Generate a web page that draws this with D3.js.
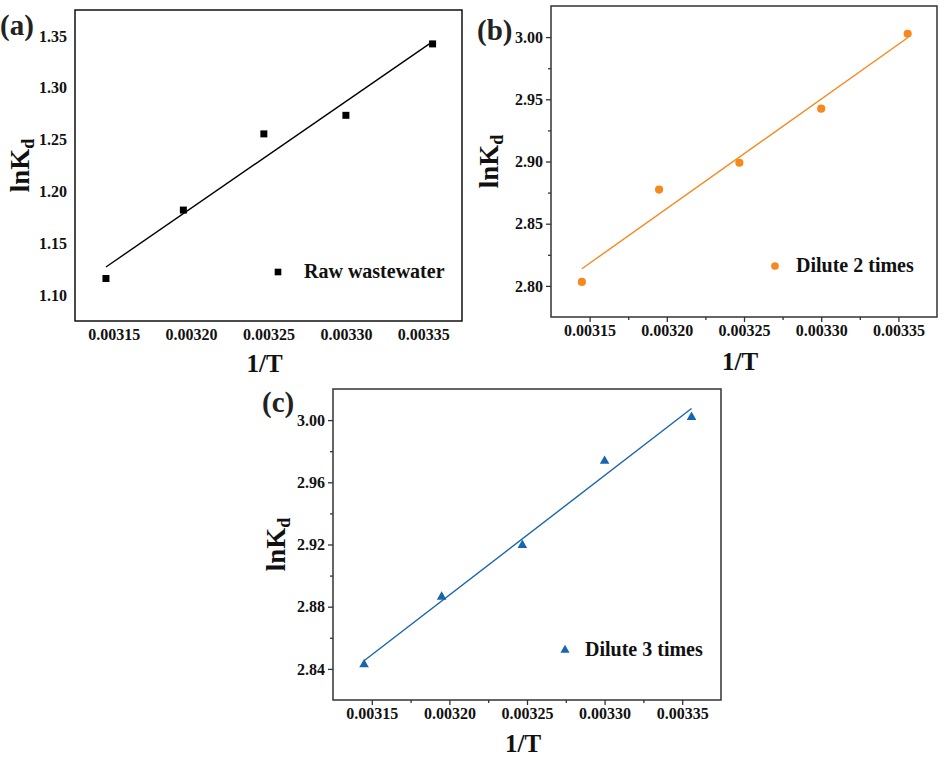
<!DOCTYPE html>
<html>
<head>
<meta charset="utf-8">
<script src="https://cdn.jsdelivr.net/npm/d3@7"></script>
<style>
  body { margin: 0; background: #fff; }
</style>
</head>
<body>
<div class="chart"></div>
<script>
// data
var invT = [0.003145, 0.003195, 0.003247, 0.003300, 0.003356];
var lnKdRaw = [1.1160, 1.1820, 1.2555, 1.2734, 1.3423];
var lnKdDilute2 = [2.8032, 2.8774, 2.8990, 2.9425, 3.0027];
var lnKdDilute3 = [2.8428, 2.8863, 2.9196, 2.9737, 3.0019];
var seriesNames = ["Raw wastewater", "Dilute 2 times", "Dilute 3 times"];
var panelTags = ["(a)", "(b)", "(c)"];
var xTicks = [0.00315, 0.00320, 0.00325, 0.00330, 0.00335];
var yTicksA = [1.10, 1.15, 1.20, 1.25, 1.30, 1.35];
var yTicksB = [2.80, 2.85, 2.90, 2.95, 3.00];
var yTicksC = [2.84, 2.88, 2.92, 2.96, 3.00];

var FONT = "'Liberation Serif', 'Times New Roman', Tinos, 'DejaVu Serif', serif";

// the tick label "0.00315" is ~3.25em wide in Times bold; shrink if the font we get is wider
var ctx = document.createElement("canvas").getContext("2d");
ctx.font = "bold 100px " + FONT;
var fs = Math.min(1, 325 / ctx.measureText("0.00315").width);

var svgWidth = 945;
var svgHeight = 760;

var svg = d3.select(".chart")
  .append("svg")
  .attr("width", svgWidth)
  .attr("height", svgHeight)
  .style("font-family", FONT)
  .style("font-weight", "bold");

// one entry per sub-plot; the frame box is in page pixels
var panels = [
  {ys: lnKdRaw, yTicks: yTicksA, yDomain: [1.075, 1.375], fmt: ".2f",
   box: {x: 75, y: 10, w: 387, h: 311}, color: "#000", frame: "#111",
   shape: d3.symbolSquare, size: 49, ticks: false,
   legend: {x: 278, y: 272, gap: 26}, tag: {x: 0, y: 35}, xTitleY: 372, yTitleX: 29},
  {ys: lnKdDilute2, yTicks: yTicksB, yDomain: [2.775, 3.025], fmt: ".2f",
   box: {x: 551, y: 6, w: 386, h: 311}, color: "#f7881c", frame: "#333",
   shape: d3.symbolCircle, size: 52, ticks: true,
   legend: {x: 775, y: 266, gap: 21}, tag: {x: 477, y: 40}, xTitleY: 370, yTitleX: 498},
  {ys: lnKdDilute3, yTicks: yTicksC, yDomain: [2.82, 3.02], fmt: ".2f",
   box: {x: 333, y: 389, w: 388, h: 311}, color: "#1765ad", frame: "#333",
   shape: d3.symbolTriangle, size: 40, ticks: true,
   legend: {x: 565, y: 650, gap: 20}, tag: {x: 262, y: 412}, xTitleY: 752, yTitleX: 285}
];

// midpoints between major ticks (plus one past the top) for the minor marks
function minors(t, hi) {
  var step = t[1] - t[0];
  return d3.pairs(t).map(p => (p[0] + p[1]) / 2)
    .concat([t[t.length - 1] + step / 2])
    .filter(v => v < hi);
}

// plain least squares for the straight fit line
function fit(xs, ys) {
  var mx = d3.mean(xs), my = d3.mean(ys);
  var sxy = d3.sum(xs, (x, i) => (x - mx) * (ys[i] - my));
  var sxx = d3.sum(xs, x => (x - mx) * (x - mx));
  var b = sxy / sxx;
  return {a: my - b * mx, b: b};
}

panels.forEach(function(p, k) {
  var g = svg.append("g")
    .attr("transform", `translate(${p.box.x}, ${p.box.y})`);

  var xDomain = [0.003125, 0.003375];
  var x = d3.scaleLinear().domain(xDomain).range([0, p.box.w]);
  var y = d3.scaleLinear().domain(p.yDomain).range([p.box.h, 0]);

  var major = p.ticks ? 5 : 0;

  g.append("g")
    .attr("transform", `translate(0, ${p.box.h})`)
    .call(d3.axisBottom(x).tickValues(xTicks).tickFormat(d3.format(".5f"))
      .tickSizeInner(major).tickSizeOuter(0).tickPadding(8 - major));
  g.append("g")
    .call(d3.axisLeft(y).tickValues(p.yTicks).tickFormat(d3.format(p.fmt))
      .tickSizeInner(major).tickSizeOuter(0).tickPadding(8 - major));

  if (p.ticks) {
    g.append("g")
      .attr("transform", `translate(0, ${p.box.h})`)
      .call(d3.axisBottom(x).tickValues(minors(xTicks, xDomain[1])).tickFormat("").tickSize(3));
    g.append("g")
      .call(d3.axisLeft(y).tickValues(minors(p.yTicks, p.yDomain[1])).tickFormat("").tickSize(3));
  }

  g.selectAll(".domain").remove();
  g.selectAll(".tick line").attr("stroke", p.frame).attr("stroke-width", 1.3);
  g.selectAll("g").attr("font-family", null);
  g.selectAll(".tick text")
    .attr("fill", "#111")
    .style("font-size", (16 * fs) + "px");

  // frame box
  g.append("rect")
    .attr("width", p.box.w)
    .attr("height", p.box.h)
    .attr("fill", "none")
    .attr("stroke", p.frame)
    .attr("stroke-width", 1.5);

  // fit line over the data range
  var f = fit(invT, p.ys);
  var ends = d3.extent(invT);
  g.append("line")
    .attr("x1", x(ends[0])).attr("y1", y(f.a + f.b * ends[0]))
    .attr("x2", x(ends[1])).attr("y2", y(f.a + f.b * ends[1]))
    .attr("stroke", p.color)
    .attr("stroke-width", 1.4);

  // points
  var sym = d3.symbol().type(p.shape).size(p.size);
  g.selectAll(".pt")
    .data(invT.map((v, i) => [v, p.ys[i]]))
    .enter()
    .append("path")
    .attr("class", "pt")
    .attr("d", sym)
    .attr("transform", d => `translate(${x(d[0])}, ${y(d[1])})`)
    .attr("fill", p.color);

  // legend
  svg.append("path")
    .attr("d", d3.symbol().type(p.shape).size(p.size * 0.9))
    .attr("transform", `translate(${p.legend.x}, ${p.legend.y})`)
    .attr("fill", p.color);
  svg.append("text")
    .attr("x", p.legend.x + p.legend.gap)
    .attr("y", p.legend.y + 6)
    .style("font-size", (20 * fs) + "px")
    .attr("fill", "#111")
    .text(seriesNames[k]);

  // axis titles
  svg.append("text")
    .attr("x", p.box.x + p.box.w / 2 - 4)
    .attr("y", p.xTitleY)
    .attr("text-anchor", "middle")
    .style("font-size", (25 * fs) + "px")
    .attr("fill", "#111")
    .text("1/T");

  var yt = svg.append("text")
    .attr("transform", `translate(${p.yTitleX}, ${p.box.y + p.box.h / 2}) rotate(-90)`)
    .attr("text-anchor", "middle")
    .style("font-size", (27 * fs) + "px")
    .attr("fill", "#111");
  yt.append("tspan").text("lnK");
  yt.append("tspan").attr("dy", "0.3em").style("font-size", (18 * fs) + "px").text("d");

  svg.append("text")
    .attr("x", p.tag.x)
    .attr("y", p.tag.y)
    .style("font-size", (29 * fs) + "px")
    .attr("fill", "#222")
    .text(panelTags[k]);
});
</script>
</body>
</html>
